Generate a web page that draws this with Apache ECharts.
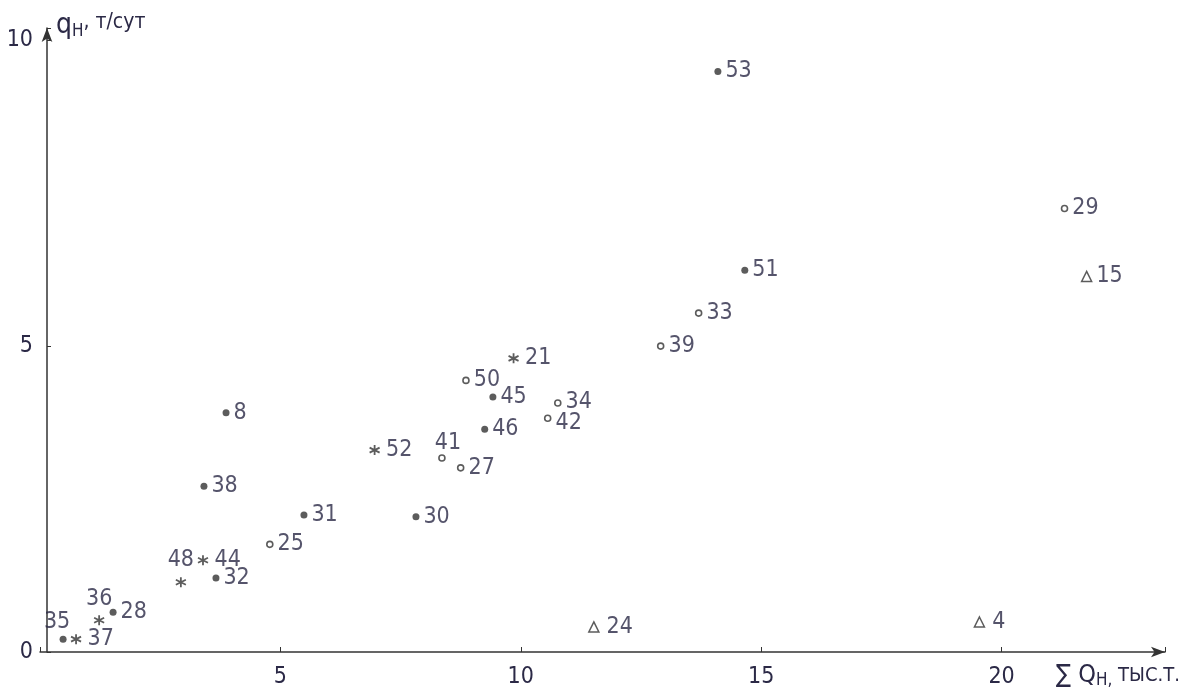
<!DOCTYPE html>
<html><head><meta charset="utf-8">
<script src="https://cdn.jsdelivr.net/npm/echarts@6/dist/echarts.min.js"></script>
<style>html,body{margin:0;padding:0;background:#fff}#c{width:1195px;height:697px}</style>
</head><body><div id="c"></div>
<script>
// Data: [ΣQн (тыс. т), qн (т/сут), well number]
const solidPoints = [
  [14.10, 9.49, '53'], [14.66, 6.24, '51'], [9.42, 4.17, '45'], [9.25, 3.64, '46'],
  [3.87, 3.91, '8'], [3.41, 2.71, '38'], [5.49, 2.24, '31'], [7.82, 2.21, '30'],
  [3.66, 1.21, '32'], [0.48, 0.21, '35'], [1.52, 0.65, '28']
];
const openPoints = [
  [21.31, 7.25, '29'], [13.70, 5.54, '33'], [12.91, 5.00, '39'], [8.86, 4.44, '50'],
  [10.77, 4.07, '34'], [10.56, 3.82, '42'], [8.36, 3.17, '41'], [8.75, 3.01, '27'],
  [4.78, 1.76, '25']
];
const starPoints = [
  [9.85, 4.80, '21'], [6.96, 3.30, '52'], [3.39, 1.50, '44'], [2.93, 1.14, '48'],
  [0.75, 0.21, '37'], [1.23, 0.52, '36']
];
const trianglePoints = [
  [21.77, 6.14, '15'], [19.54, 0.49, '4'], [11.52, 0.41, '24']
];
const xTicks = [5, 10, 15, 20];
const yTicks = [0, 5, 10];

const INK = '#2b2946';
const FONT = "'DejaVu Sans', sans-serif";
const STRETCH = 'condensed';
const labelStyle = {
  '35': {position: 'top', distance: 2, offset: [-6, 0]},
  '36': {position: 'top', distance: 2},
  '48': {position: 'top', distance: 3},
  '41': {position: 'top', distance: 0, offset: [6, 0]},
  '34': {position: 'right', offset: [0, -1]},
  '42': {position: 'right', offset: [0, 5]},
  '24': {position: 'right', distance: 7},
  '4': {position: 'right', distance: 7},
  '15': {position: 'right', distance: 4}
};
function toData(arr) {
  return arr.map(p => {
    const d = {value: [p[0], p[1]], name: p[2]};
    if (labelStyle[p[2]]) d.label = labelStyle[p[2]];
    return d;
  });
}
const baseLabel = {show: true, position: 'right', distance: 4, formatter: '{b}',
  color: INK, fontFamily: FONT, fontWeight: STRETCH, fontSize: 23};

const chart = echarts.init(document.getElementById('c'));
chart.setOption({
  backgroundColor: '#fff',
  animation: false,
  grid: {left: 40, right: 30, top: 28, bottom: 45},
  xAxis: {
    type: 'value', min: 0, max: 23.4, interval: 5,
    splitLine: {show: false},
    axisLine: {lineStyle: {color: '#333', width: 1.5}, symbol: ['none', 'arrow'], symbolSize: [8, 14]},
    axisTick: {show: true, inside: true, length: 5, lineStyle: {color: '#333'}},
    axisLabel: {color: INK, fontFamily: FONT, fontWeight: STRETCH, fontSize: 23, margin: 14,
      formatter: v => xTicks.includes(v) ? String(v) : ''}
  },
  yAxis: {
    type: 'value', min: 0, max: 10.2, interval: 5,
    splitLine: {show: false},
    axisLine: {onZero: false, lineStyle: {color: '#333', width: 1.5}, symbol: ['none', 'arrow'], symbolSize: [8, 14]},
    offset: -7,
    axisTick: {show: true, inside: true, length: 4, lineStyle: {color: '#333'}},
    axisLabel: {color: INK, fontFamily: FONT, fontWeight: STRETCH, fontSize: 23, margin: 14,
      formatter: v => yTicks.includes(v) ? String(v) : ''}
  },
  graphic: [
    {type: 'text', left: 56, top: 12, style: {
      text: '{q|q}{s|H}{n|, т/сут}', fontFamily: FONT, fill: INK,
      rich: {q: {fontSize: 28, fontFamily: FONT, fontWeight: STRETCH, fill: INK}, s: {fontSize: 17, fontFamily: FONT, fontWeight: STRETCH, fill: INK, padding: [12, 0, 0, 0]},
             n: {fontSize: 21, fontFamily: FONT, fontWeight: STRETCH, fill: INK, padding: [0, 0, 6, 0]}}}},
    {type: 'text', left: 1056, top: 663, style: {
      text: '{a|∑ Q}{s|H,}{n| ТЫС.Т.}', fontFamily: FONT, fill: INK,
      rich: {a: {fontSize: 25, fontFamily: FONT, fontWeight: STRETCH, fill: INK}, s: {fontSize: 17, fontFamily: FONT, fontWeight: STRETCH, fill: INK, padding: [10, 0, 0, 0]},
             n: {fontSize: 20, fontFamily: FONT, fontWeight: STRETCH, fill: INK}}}}
  ],
  series: [
    {name: 'solid', type: 'scatter', data: toData(solidPoints), symbol: 'circle', symbolSize: 7,
      itemStyle: {color: '#333'}, label: baseLabel},
    {name: 'open', type: 'scatter', data: toData(openPoints), symbol: 'circle', symbolSize: 6,
      itemStyle: {color: '#fff', borderColor: '#333', borderWidth: 1.6}, label: baseLabel},
    {name: 'star', type: 'scatter', data: toData(starPoints),
      symbol: 'path://M0,-5L0,5M-4.33,-2.5L4.33,2.5M-4.33,2.5L4.33,-2.5', symbolSize: 10,
      itemStyle: {color: 'none', borderColor: '#333', borderWidth: 1.8}, label: baseLabel},
    {name: 'triangle', type: 'scatter', data: toData(trianglePoints), symbol: 'triangle', symbolSize: 10,
      itemStyle: {color: '#fff', borderColor: '#333', borderWidth: 1.5}, label: baseLabel}
  ]
});
</script></body></html>
